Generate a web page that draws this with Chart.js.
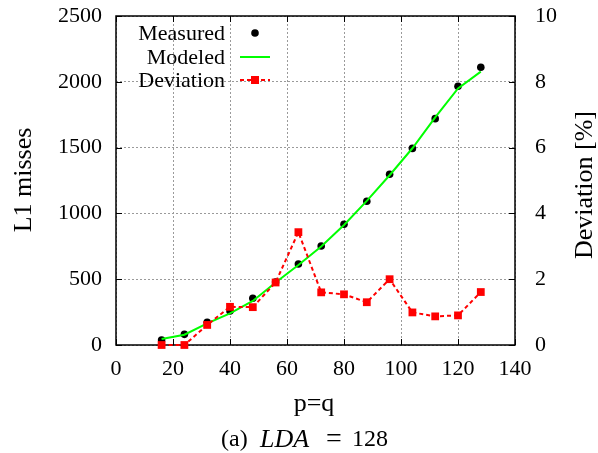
<!DOCTYPE html>
<html>
<head>
<meta charset="utf-8">
<script src="https://cdn.jsdelivr.net/npm/chart.js@4.4.0/dist/chart.umd.min.js"></script>
<style>
html,body{margin:0;padding:0;background:#fff;}
canvas{display:block;}
</style>
</head>
<body>
<canvas id="c" width="598" height="453"></canvas>
<script>
// ---- data ----
const pq = [16, 24, 32, 40, 48, 56, 64, 72, 80, 88, 96, 104, 112, 120, 128];
const measured = [38, 81, 172, 258, 355, 479, 615, 752, 917, 1092, 1297, 1494, 1720, 1966, 2110];
const modeled = [45, 78, 165, 240, 335, 475, 608, 748, 912, 1095, 1290, 1495, 1730, 1950, 2077];
const deviation = [0, 0, 0.61, 1.16, 1.15, 1.9, 3.43, 1.6, 1.54, 1.3, 2.0, 0.99, 0.87, 0.9, 1.61];
const seriesNames = ['Measured', 'Modeled', 'Deviation'];
const xTitle = 'p=q';
const yTitle = 'L1 misses';
const y2Title = 'Deviation [%]';

const FONT = '"Liberation Serif", "Times New Roman", serif';
const toXY = (ys) => pq.map((x, i) => ({x: x, y: ys[i]}));
const plain = v => String(v);

const framePlugin = {
  id: 'frame',
  beforeDatasetsDraw(chart) {
    const ctx = chart.ctx, a = chart.chartArea;
    const sx = chart.scales.x, sy = chart.scales.y, sy2 = chart.scales.y1;
    ctx.save();
    ctx.strokeStyle = '#000';
    ctx.lineWidth = 1.5;
    ctx.strokeRect(a.left, a.top, a.right - a.left, a.bottom - a.top);
    ctx.lineWidth = 1;
    const L = 6;
    ctx.beginPath();
    sx.ticks.forEach(t => {
      const p = Math.round(sx.getPixelForValue(t.value)) + 0.5;
      ctx.moveTo(p, a.bottom); ctx.lineTo(p, a.bottom - L);
      ctx.moveTo(p, a.top); ctx.lineTo(p, a.top + L);
    });
    sy.ticks.forEach(t => {
      const p = Math.round(sy.getPixelForValue(t.value)) + 0.5;
      ctx.moveTo(a.left, p); ctx.lineTo(a.left + L, p);
    });
    sy2.ticks.forEach(t => {
      const p = Math.round(sy2.getPixelForValue(t.value)) + 0.5;
      ctx.moveTo(a.right, p); ctx.lineTo(a.right - L, p);
    });
    ctx.stroke();
    ctx.restore();
  },
  afterDraw(chart) {
    const ctx = chart.ctx;
    ctx.save();
    ctx.fillStyle = '#000';
    ctx.textAlign = 'center';
    ctx.textBaseline = 'middle';
    ctx.font = '26px ' + FONT;
    ctx.save();
    ctx.translate(24, 180);
    ctx.rotate(-Math.PI / 2);
    ctx.fillText(yTitle, 0, 0);
    ctx.restore();
    ctx.save();
    ctx.translate(585, 185);
    ctx.rotate(-Math.PI / 2);
    ctx.fillText(y2Title, 0, 0);
    ctx.restore();
    ctx.fillText(xTitle, 314, 404);
    // subtitle
    ctx.textAlign = 'left';
    ctx.font = '24px ' + FONT;
    ctx.fillText('(a)', 221, 440);
    ctx.font = 'italic 26px ' + FONT;
    ctx.fillText('LDA', 260, 440);
    ctx.textAlign = 'center';
    ctx.font = '28px ' + FONT;
    ctx.fillText('=', 334, 440);
    ctx.textAlign = 'left';
    ctx.font = '24px ' + FONT;
    ctx.fillText('128', 352, 440);

    // legend
    const tx = 225, sx0 = 240, sx1 = 270, rows = [33, 57, 80];
    ctx.font = '22px ' + FONT;
    ctx.textAlign = 'right';
    seriesNames.forEach((n, i) => ctx.fillText(n, tx, rows[i] + 1));
    ctx.fillStyle = '#000';
    ctx.beginPath(); ctx.arc((sx0 + sx1) / 2, rows[0], 3.8, 0, Math.PI * 2); ctx.fill();
    ctx.strokeStyle = '#00ff00'; ctx.lineWidth = 2;
    ctx.beginPath(); ctx.moveTo(sx0, rows[1]); ctx.lineTo(sx1, rows[1]); ctx.stroke();
    ctx.strokeStyle = '#ff0000'; ctx.setLineDash([4, 3]);
    ctx.beginPath(); ctx.moveTo(sx0, rows[2]); ctx.lineTo(sx1, rows[2]); ctx.stroke();
    ctx.setLineDash([]);
    ctx.fillStyle = '#ff0000';
    ctx.fillRect((sx0 + sx1) / 2 - 4, rows[2] - 4, 8, 8);
    ctx.restore();
  }
};

const fixV = w => s => { s.width = w; s.paddingTop = 0; s.paddingBottom = 0; };

new Chart(document.getElementById('c'), {
  type: 'line',
  data: {
    datasets: [
      {
        label: seriesNames[2], data: toXY(deviation), yAxisID: 'y1',
        borderColor: '#ff0000', backgroundColor: '#ff0000', borderWidth: 2,
        borderDash: [4, 3], pointStyle: 'rect', pointRadius: 5.5, pointBorderWidth: 0,
        pointHoverRadius: 5.5, tension: 0, clip: false, order: 0
      },
      {
        label: seriesNames[1], data: toXY(modeled), yAxisID: 'y',
        borderColor: '#00ff00', borderWidth: 2, pointRadius: 0, tension: 0, clip: false, order: 1
      },
      {
        label: seriesNames[0], data: toXY(measured), yAxisID: 'y',
        showLine: false, borderColor: '#000', backgroundColor: '#000',
        pointStyle: 'circle', pointRadius: 3.8, pointBorderWidth: 0, clip: false, order: 2
      }
    ]
  },
  options: {
    responsive: false,
    animation: false,
    devicePixelRatio: 1,
    layout: {padding: {top: 16, left: 0, right: 0, bottom: 0}},
    plugins: {legend: {display: false}, tooltip: {enabled: false}, title: {display: false}},
    events: [],
    scales: {
      x: {
        type: 'linear', position: 'bottom', min: 0, max: 140,
        afterFit: s => { s.height = 108; s.paddingLeft = 0; s.paddingRight = 0; },
        ticks: {stepSize: 20, color: '#000', font: {family: FONT, size: 22}, padding: 11, maxRotation: 0, callback: plain},
        grid: {color: '#9a9a9a', lineWidth: 1, drawTicks: false},
        border: {display: false, dash: [2, 2]}
      },
      y: {
        type: 'linear', position: 'left', min: 0, max: 2500,
        afterFit: fixV(116),
        ticks: {stepSize: 500, color: '#000', font: {family: FONT, size: 22}, padding: 14, callback: plain},
        grid: {color: '#9a9a9a', lineWidth: 1, drawTicks: false},
        border: {display: false, dash: [2, 2]}
      },
      y1: {
        type: 'linear', position: 'right', min: 0, max: 10,
        afterFit: fixV(83),
        ticks: {stepSize: 2, color: '#000', font: {family: FONT, size: 22}, padding: 20, callback: plain},
        grid: {display: false, drawOnChartArea: false, drawTicks: false},
        border: {display: false}
      }
    }
  },
  plugins: [framePlugin]
});
</script>
</body>
</html>
